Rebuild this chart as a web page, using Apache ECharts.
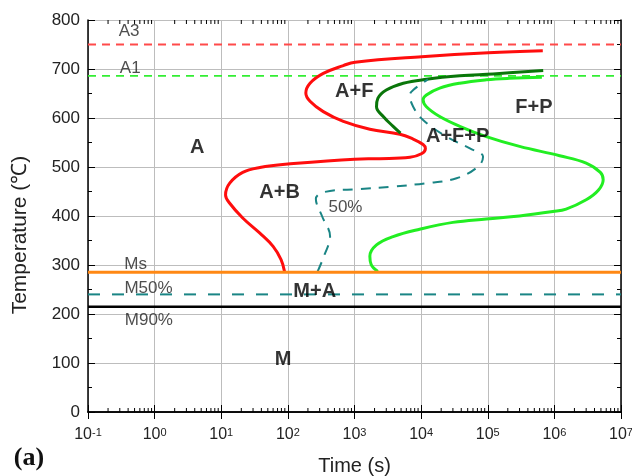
<!DOCTYPE html>
<html>
<head>
<meta charset="utf-8">
<script src="https://cdn.jsdelivr.net/npm/echarts@6/dist/echarts.min.js"></script>
<style>
  html, body { margin: 0; padding: 0; background: #fff; }
  #chart { width: 632px; height: 476px; }
</style>
</head>
<body>
<div id="chart"></div>
<script>
// Time axis range (s), log scale
const timeMin = 0.1;
const timeMax = 1e7;

// Critical temperatures (°C)
const tempA3 = 750;
const tempA1 = 686;
const tempMs = 285;
const tempM50 = 240;
const tempM90 = 215;

// Transformation curves as [time (s), temperature (°C)]
// Start of ferrite / bainite transformation
const startCurve = [
  [89, 287], [79, 311], [60, 338], [38, 365], [21, 396], [13.4, 426], [11.6, 443],
  [13.4, 467], [21, 489], [38, 499], [100, 506], [1000, 516], [2400, 517], [6800, 520],
  [10100, 527], [11600, 538], [10700, 546], [7600, 557], [4800, 567], [1700, 577],
  [680, 593], [340, 613], [215, 634], [186, 651], [215, 671], [340, 691], [680, 707],
  [1020, 714], [10200, 725], [102000, 733], [670000, 737]
];

// Start of pearlite transformation
const pearliteStart = [
  [4900, 569], [3800, 583], [2700, 603], [2140, 623], [2240, 640], [3000, 657],
  [5400, 671], [12000, 679], [38000, 686], [120000, 690], [680000, 697]
];

// End of transformation
const finishCurve = [
  [2240, 287], [1780, 301], [1700, 318], [2140, 341], [3800, 358], [9500, 373],
  [30000, 387], [95000, 394], [300000, 400], [950000, 409], [1500000, 414],
  [3000000, 433], [4600000, 453], [5400000, 474], [4900000, 489], [3000000, 508],
  [1200000, 523], [300000, 542], [95000, 562], [38000, 583], [19000, 603],
  [12000, 623], [10700, 637], [12000, 647], [19000, 661], [38000, 671],
  [95000, 678], [210000, 681], [650000, 683]
];

// 50 % transformed
const halfCurve = [
  [280, 287], [355, 321], [430, 358], [325, 400], [263, 435], [355, 449],
  [1200, 455], [3800, 460], [12000, 467], [34000, 477], [72000, 501], [85000, 521],
  [54000, 538], [24000, 562], [10700, 596], [7600, 623], [6800, 647], [7600, 657],
  [12600, 679]
];

// Phase-field labels: [time, temperature, text]
const phaseLabels = [
  [4.35, 540, 'A'], [990, 655, 'A+F'], [75, 447, 'A+B'], [35300, 562, 'A+F+P'],
  [493000, 621, 'F+P'], [253, 246, 'M+A'], [84.5, 107, 'M']
];
// Line annotations: [time, temperature, text]
const lineLabels = [
  [0.413, 776, 'A3'], [0.43, 702, 'A1'], [0.52, 301, 'Ms'], [0.81, 252, 'M50%'],
  [0.82, 188, 'M90%'], [731, 418, '50%']
];

// Minor tick multipliers within each decade
const minorSteps = [2, 3, 4, 5, 6, 7, 8, 9];
const minorTickData = [];
for (let d = Math.round(Math.log10(timeMin)); d < Math.round(Math.log10(timeMax)); d++) {
  minorSteps.forEach(m => minorTickData.push([m * Math.pow(10, d), 0]));
}

const FONT = '"Liberation Sans", Arial, sans-serif';

function hLine(temp) {
  return [[timeMin, temp], [timeMax, temp]];
}

const chart = echarts.init(document.getElementById('chart'), null, { renderer: 'canvas' });

const lineBase = { type: 'line', showSymbol: false, silent: true, animation: false };

chart.setOption({
  animation: false,
  backgroundColor: '#fff',
  grid: { left: 88, right: 11, top: 20, bottom: 64, containLabel: false, outerBoundsMode: 'none' },
  xAxis: [
    {
      type: 'log', logBase: 10, min: timeMin, max: timeMax, position: 'bottom',
      axisLine: { lineStyle: { color: '#000', width: 1.5 } },
      axisTick: { inside: true, length: 7, lineStyle: { color: '#000', width: 1 } },
      splitLine: { show: true, lineStyle: { color: '#bdbdbd', width: 1 } },
      axisLabel: {
        margin: 15, color: '#222', fontFamily: FONT,
        formatter: v => '{b|10}{s|' + Math.round(Math.log10(v)) + '}',
        rich: {
          b: { fontSize: 16, lineHeight: 20, verticalAlign: 'top', fontFamily: FONT, color: '#222' },
          s: { fontSize: 11, lineHeight: 11, verticalAlign: 'top', fontFamily: FONT, color: '#222' }
        }
      },
      name: 'Time (s)', nameLocation: 'middle', nameGap: 44,
      nameTextStyle: { fontSize: 20, color: '#222', fontFamily: FONT }
    },
    {
      type: 'log', logBase: 10, min: timeMin, max: timeMax, position: 'top',
      axisLine: { lineStyle: { color: '#000', width: 1.5 } },
      axisTick: { inside: true, length: 7, lineStyle: { color: '#000', width: 1 } },
      axisLabel: { show: false }, splitLine: { show: false }
    }
  ],
  yAxis: [
    {
      type: 'value', min: 0, max: 800, interval: 100, position: 'left',
      axisLine: { show: true, lineStyle: { color: '#000', width: 1.5 } },
      axisTick: { show: true, inside: true, length: 7, lineStyle: { color: '#000', width: 1 } },
      minorTick: { show: true, splitNumber: 2, length: 4, lineStyle: { color: '#000', width: 1 } },
      splitLine: { show: true, lineStyle: { color: '#bdbdbd', width: 1 } },
      axisLabel: { margin: 8, fontSize: 17, color: '#222', fontFamily: FONT }
    },
    {
      type: 'value', min: 0, max: 800, interval: 100, position: 'right',
      axisLine: { show: true, lineStyle: { color: '#000', width: 1.5 } },
      axisTick: { show: true, inside: true, length: 7, lineStyle: { color: '#000', width: 1 } },
      minorTick: { show: true, splitNumber: 2, length: 4, lineStyle: { color: '#000', width: 1 } },
      splitLine: { show: false }, axisLabel: { show: false }
    }
  ],
  graphic: [
    {
      type: 'text', x: 20, y: 235, rotation: Math.PI / 2,
      style: {
        text: 'Temperature (℃)', fontSize: 21, fontFamily: FONT, fill: '#222',
        align: 'center', verticalAlign: 'middle'
      }
    },
    {
      type: 'text', x: 29, y: 458,
      style: {
        text: '(a)', fontSize: 26, fontWeight: 'bold', fontFamily: '"Liberation Serif", "Times New Roman", serif',
        fill: '#111', align: 'center', verticalAlign: 'middle'
      }
    }
  ],
  series: [
    Object.assign({}, lineBase, { name: 'A3', data: hLine(tempA3), z: 3,
      lineStyle: { color: '#ff4a4a', width: 1.8, type: [8, 6] } }),
    Object.assign({}, lineBase, { name: 'A1', data: hLine(tempA1), z: 3,
      lineStyle: { color: '#33ee33', width: 1.8, type: [8, 6] } }),
    Object.assign({}, lineBase, { name: 'M50%', data: hLine(tempM50), z: 3,
      lineStyle: { color: '#1a8585', width: 2, type: [12, 12] } }),
    Object.assign({}, lineBase, { name: 'M90%', data: hLine(tempM90), z: 3,
      lineStyle: { color: '#000', width: 2.5 } }),
    Object.assign({}, lineBase, { name: 'start', data: startCurve, smooth: 0.4, z: 4,
      lineStyle: { color: '#ff0d0d', width: 3 } }),
    Object.assign({}, lineBase, { name: 'pearlite', data: pearliteStart, smooth: 0.4, z: 4,
      lineStyle: { color: '#0a760a', width: 3 } }),
    Object.assign({}, lineBase, { name: 'finish', data: finishCurve, smooth: 0.4, z: 4,
      lineStyle: { color: '#22ee22', width: 3 } }),
    Object.assign({}, lineBase, { name: '50%', data: halfCurve, smooth: 0.4, z: 4,
      lineStyle: { color: '#1a8585', width: 2, type: [10, 8] } }),
    Object.assign({}, lineBase, { name: 'Ms', data: hLine(tempMs), z: 5,
      lineStyle: { color: '#ff8814', width: 3 } }),
    {
      type: 'scatter', symbolSize: 0, silent: true, z: 10,
      data: phaseLabels.map(d => ({ value: [d[0], d[1]], name: d[2] })),
      label: {
        show: true, position: 'inside', formatter: p => p.name,
        fontSize: 20, fontWeight: 'bold', color: '#000', fontFamily: FONT
      }
    },
    {
      type: 'scatter', symbolSize: 0, silent: true, z: 10,
      data: lineLabels.map(d => ({ value: [d[0], d[1]], name: d[2] })),
      label: {
        show: true, position: 'inside', formatter: p => p.name,
        fontSize: 17, color: '#222', fontFamily: FONT
      }
    },
    {
      type: 'custom', silent: true, clip: false, z: 20,
      data: minorTickData,
      renderItem(params, api) {
        const x = api.coord([api.value(0), 0])[0];
        const cs = params.coordSys;
        const yb = cs.y + cs.height;
        const yt = cs.y;
        return {
          type: 'group',
          children: [
            { type: 'line', shape: { x1: x, y1: yb, x2: x, y2: yb - 4 }, style: { stroke: '#000', lineWidth: 1 } },
            { type: 'line', shape: { x1: x, y1: yt, x2: x, y2: yt + 4 }, style: { stroke: '#000', lineWidth: 1 } }
          ]
        };
      }
    }
  ]
});
</script>
</body>
</html>
